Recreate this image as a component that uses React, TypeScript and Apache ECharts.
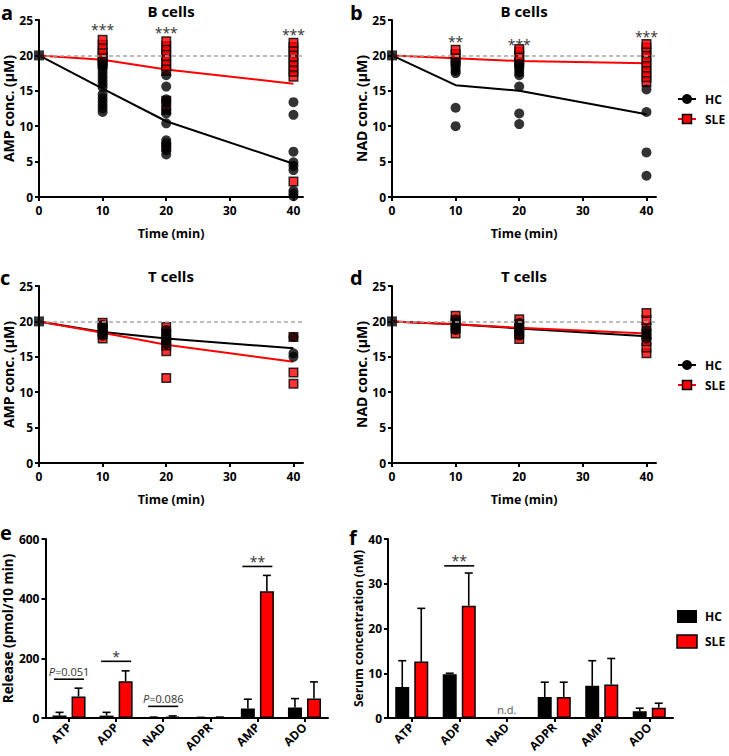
import React, { useEffect, useRef } from 'react';
import * as echarts from 'echarts';

const FONT = "'Open Sans', 'DejaVu Sans', sans-serif";
const RED = '#ff0000';

// ---- time-course panels (a-d) ----
const times = [0, 10, 20, 40];
const sampleTimes = [10, 20, 40];
const timeTicks = [0, 10, 20, 30, 40];
const startConc = 20;

// a: B cells, AMP
const aHCMean = [20, 15.3, 10.7, 4.7];
const aSLEMean = [20, 19.4, 18.0, 16.0];
const aHC10 = [19.0, 18.5, 18.0, 17.5, 17.0, 16.5, 16.0, 15.5, 14.5, 14.0, 13.5, 13.0, 12.5, 12.0];
const aHC20 = [17.2, 15.6, 13.8, 13.4, 12.4, 11.8, 10.4, 8.0, 7.6, 7.2, 6.6, 6.0];
const aHC40 = [13.4, 11.6, 6.4, 4.9, 4.4, 3.8, 0.9, 0.5, 0.1];
const aSLE10 = [18.8, 19.3, 19.8, 20.3, 20.8, 21.5, 22.2];
const aSLE20 = [7.1, 12.3, 13.6, 17.8, 18.5, 19.2, 19.9, 20.6, 21.3, 22.0];
const aSLE40 = [2.2, 17.0, 17.7, 18.4, 19.1, 19.8, 20.5, 21.2, 21.8];
const aStars = ['***', '***', '***'];
const aStarY = [23.9, 23.5, 23.2];

// b: B cells, NAD
const bHCMean = [20, 15.8, 15.0, 11.7];
const bSLEMean = [20, 19.6, 19.2, 18.9];
const bHC10 = [19.0, 18.6, 18.2, 17.8, 17.5, 12.6, 10.0];
const bHC20 = [18.8, 18.4, 18.0, 17.6, 17.2, 15.6, 11.8, 10.3];
const bHC40 = [15.2, 12.0, 6.3, 3.0];
const bSLE10 = [19.1, 19.6, 20.2, 20.8];
const bSLE20 = [18.9, 19.4, 19.9, 20.5, 20.9];
const bSLE40 = [16.2, 16.9, 17.6, 18.3, 19.0, 19.7, 20.4, 21.1, 21.6];
const bStars = ['**', '***', '***'];
const bStarY = [22.2, 21.8, 23.0];

// c: T cells, AMP
const cHCMean = [20, 18.5, 17.6, 16.2];
const cSLEMean = [20, 18.4, 16.7, 14.3];
const cHC10 = [18.0, 18.4, 18.8, 19.2, 19.5];
const cHC20 = [16.8, 17.3, 17.8, 18.3, 18.8];
const cHC40 = [17.8, 15.5, 15.0];
const cSLE10 = [17.6, 18.2, 18.8, 19.4, 19.8];
const cSLE20 = [12.0, 15.8, 16.6, 17.4, 18.2, 19.2];
const cSLE40 = [11.2, 12.8, 17.8];

// d: T cells, NAD
const dHCMean = [20, 19.6, 19.0, 17.9];
const dSLEMean = [20, 19.6, 19.1, 18.3];
const dHC10 = [18.8, 19.3, 19.8, 20.3];
const dHC20 = [18.0, 18.6, 19.2, 19.8];
const dHC40 = [17.6, 18.2, 18.8];
const dSLE10 = [18.3, 19.0, 19.6, 20.2, 20.8];
const dSLE20 = [17.5, 18.2, 18.9, 19.6, 20.3];
const dSLE40 = [15.5, 16.3, 17.2, 18.2, 19.2, 20.2, 21.2];

// ---- bar panels (e-f) ----
const metabolites = ['ATP', 'ADP', 'NAD', 'ADPR', 'AMP', 'ADO'];
const eHC = [8, 8, 2, 1, 32, 35];
const eHCsd = [11, 11, 1, 1, 31, 30];
const eSLE = [72, 123, 5, 2, 425, 65];
const eSLEsd = [28, 35, 2, 1, 53, 56];
const eSigCats = ['ATP', 'ADP', 'NAD', 'AMP'];
const eSigY = [130, 190, 39, 508];
const eSigText = ['{i|P}=0.051', '*', '{i|P}=0.086', '**'];

const fHC = [6.9, 9.8, null, 4.7, 7.2, 1.5];
const fHCsd = [5.9, 0.2, null, 3.3, 5.6, 0.7];
const fSLE = [12.6, 25.1, null, 4.7, 7.5, 2.3];
const fSLEsd = [11.9, 7.3, null, 3.3, 5.8, 1.0];
const fSigCats = ['ADP'];
const fSigY = [34];
const fSigText = ['**'];
const fNotDetected = ['NAD'];

// ---- style constants ----
const BAR_W = 14;
const BAR_OFFSET = 9.5;
const STAR_SHIFT = 2;
const STAR_FONT = `14px ${FONT}`;
const LEGEND_FONT = `bold 12px ${FONT}`;

const grids = [
  { left: 39, top: 20, width: 264, height: 177 },
  { left: 392, top: 20, width: 264, height: 177 },
  { left: 39, top: 286, width: 264, height: 177 },
  { left: 392, top: 286, width: 264, height: 177 },
  { left: 44, top: 539, width: 284, height: 179 },
  { left: 388, top: 539, width: 285, height: 179 },
];

const axisLine = { show: true, onZero: false, lineStyle: { color: '#000', width: 2 } };
const axisTick = { show: true, length: 4, lineStyle: { color: '#000', width: 2 } };
const labelStyle = { color: '#000', fontWeight: 'bold' as const, fontSize: 12, fontFamily: FONT };

function timeAxis(gi: number) {
  return {
    type: 'value', gridIndex: gi, min: 0, max: 41.5, interval: 10,
    axisLine, axisTick: { ...axisTick, customValues: timeTicks },
    axisLabel: { ...labelStyle, margin: 7, customValues: timeTicks, formatter: (v: number) => (v % 10 === 0 ? String(v) : '') },
    splitLine: { show: false },
    name: 'Time (min)', nameLocation: 'middle', nameGap: 30,
    nameTextStyle: { ...labelStyle, fontSize: 12.5 },
  };
}
function concAxis(gi: number, name: string) {
  return {
    type: 'value', gridIndex: gi, min: 0, max: 25, interval: 5,
    axisLine, axisTick, axisLabel: { ...labelStyle, margin: 6 },
    splitLine: { show: false },
    name, nameLocation: 'middle', nameGap: 24,
    nameTextStyle: { ...labelStyle, fontSize: 14 },
  };
}
function catAxis(gi: number) {
  return {
    type: 'category', gridIndex: gi, data: metabolites,
    axisLine, axisTick: { ...axisTick, alignWithLabel: true },
    axisLabel: { ...labelStyle, rotate: 45, margin: 7, interval: 0 },
  };
}
function barValueAxis(gi: number, max: number, interval: number, name: string, gap: number, size: number) {
  return {
    type: 'value', gridIndex: gi, min: 0, max, interval,
    axisLine, axisTick, axisLabel: { ...labelStyle, margin: 6 },
    splitLine: { show: false },
    name, nameLocation: 'middle', nameGap: gap,
    nameTextStyle: { ...labelStyle, fontSize: size },
  };
}

function timePanel(gi: number, hcMean: number[], sleMean: number[], hc: number[][], sle: number[][], stars?: string[], starY?: number[]) {
  const pts = (sets: number[][]) => sets.flatMap((arr, k) => arr.map((v) => [sampleTimes[k], v]));
  const s: any[] = [
    {
      type: 'line', xAxisIndex: gi, yAxisIndex: gi, data: times.map((t, i) => [t, hcMean[i]]),
      symbol: 'none', lineStyle: { color: '#000', width: 2 }, itemStyle: { color: '#000' }, z: 2,
      markLine: {
        silent: true, symbol: 'none', label: { show: false },
        lineStyle: { type: [4, 3], color: '#a6a6a6', width: 1.5 },
        data: [{ yAxis: startConc }],
      },
    },
    {
      type: 'line', xAxisIndex: gi, yAxisIndex: gi, data: times.map((t, i) => [t, sleMean[i]]),
      symbol: 'none', lineStyle: { color: RED, width: 2 }, itemStyle: { color: RED }, z: 2,
    },
    {
      type: 'scatter', xAxisIndex: gi, yAxisIndex: gi, data: pts(sle), symbol: 'rect', symbolSize: 8.5,
      itemStyle: { color: RED, borderColor: '#000', borderWidth: 1.5 }, z: 3,
    },
    {
      type: 'scatter', xAxisIndex: gi, yAxisIndex: gi, data: pts(hc), symbol: 'circle', symbolSize: 10,
      itemStyle: { color: '#000' }, z: 4,
    },
    {
      type: 'scatter', xAxisIndex: gi, yAxisIndex: gi, data: [[0, startConc]], symbol: 'rect', symbolSize: 10,
      itemStyle: { color: '#000' }, z: 5,
    },
  ];
  if (stars && starY) {
    s.push({
      type: 'custom', xAxisIndex: gi, yAxisIndex: gi, silent: true, z: 6,
      data: sampleTimes.map((t, i) => [t, starY[i]]),
      renderItem: (p: any, api: any) => {
        const c = api.coord([api.value(0), api.value(1)]);
        return {
          type: 'text', x: c[0], y: c[1] + STAR_SHIFT,
          style: { text: stars[p.dataIndex], font: STAR_FONT, fill: '#333', align: 'center', verticalAlign: 'middle' },
        };
      },
    });
  }
  return s;
}

function errorSeries(gi: number, means: (number | null)[], sds: (number | null)[], offset: number) {
  const data = means
    .map((m, i) => (m == null || sds[i] == null ? null : [i, m, m + (sds[i] as number)]))
    .filter((d) => d !== null);
  return {
    type: 'custom', xAxisIndex: gi, yAxisIndex: gi, silent: true, z: 4, data,
    renderItem: (_p: any, api: any) => {
      const base = api.coord([api.value(0), api.value(1)]);
      const top = api.coord([api.value(0), api.value(2)]);
      const x = base[0] + offset;
      const st = { stroke: '#000', lineWidth: 1.6 };
      return {
        type: 'group',
        children: [
          { type: 'line', shape: { x1: x, y1: base[1], x2: x, y2: top[1] }, style: st },
          { type: 'line', shape: { x1: x - 4, y1: top[1], x2: x + 4, y2: top[1] }, style: st },
        ],
      };
    },
  };
}

function sigSeries(gi: number, cats: string[], ys: number[], texts: string[]) {
  return {
    type: 'custom', xAxisIndex: gi, yAxisIndex: gi, silent: true, z: 6,
    data: cats.map((c, i) => [metabolites.indexOf(c), ys[i]]),
    renderItem: (p: any, api: any) => {
      const c = api.coord([api.value(0), api.value(1)]);
      const t = texts[p.dataIndex];
      const isP = t.indexOf('P') >= 0;
      return {
        type: 'group',
        children: [
          { type: 'line', shape: { x1: c[0] - 15, y1: c[1], x2: c[0] + 15, y2: c[1] }, style: { stroke: '#000', lineWidth: 1.6 } },
          {
            type: 'text', x: c[0], y: c[1] - (isP ? 8 : 5),
            style: {
              text: t, font: isP ? `11px ${FONT}` : STAR_FONT, fill: '#333', align: 'center', verticalAlign: 'middle',
              rich: { i: { font: `italic 11px ${FONT}`, fill: '#333' } },
            },
          },
        ],
      };
    },
  };
}

function barPanel(gi: number, hc: (number | null)[], hcSd: (number | null)[], sle: (number | null)[], sleSd: (number | null)[], cats: string[], ys: number[], texts: string[]) {
  return [
    {
      type: 'bar', xAxisIndex: gi, yAxisIndex: gi, data: hc, barWidth: BAR_W, barGap: '36%',
      itemStyle: { color: '#000', borderColor: '#000', borderWidth: 1.5 }, z: 2,
    },
    {
      type: 'bar', xAxisIndex: gi, yAxisIndex: gi, data: sle, barWidth: BAR_W, barGap: '36%',
      itemStyle: { color: RED, borderColor: '#000', borderWidth: 1.5 }, z: 2,
    },
    errorSeries(gi, hc, hcSd, -BAR_OFFSET),
    errorSeries(gi, sle, sleSd, BAR_OFFSET),
    sigSeries(gi, cats, ys, texts),
  ];
}

function txt(x: number, y: number, text: string, font: string, align = 'center', vAlign = 'middle', fill = '#000') {
  return { type: 'text', x, y, silent: true, style: { text, font, fill, align, verticalAlign: vAlign } };
}

function lineLegend(x: number, y: number) {
  return [
    { type: 'line', shape: { x1: x - 9, y1: y, x2: x + 9, y2: y }, style: { stroke: '#000', lineWidth: 2 } },
    { type: 'circle', shape: { cx: x, cy: y, r: 5 }, style: { fill: '#000' } },
    txt(x + 18, y, 'HC', LEGEND_FONT, 'left'),
    { type: 'line', shape: { x1: x - 9, y1: y + 20, x2: x + 9, y2: y + 20 }, style: { stroke: RED, lineWidth: 2 } },
    { type: 'rect', shape: { x: x - 4.5, y: y + 15.5, width: 9, height: 9 }, style: { fill: RED, stroke: '#000', lineWidth: 1.5 } },
    txt(x + 18, y + 20, 'SLE', LEGEND_FONT, 'left'),
  ];
}

function barLegend(x: number, y: number) {
  return [
    { type: 'rect', shape: { x, y, width: 20, height: 13 }, style: { fill: '#000' } },
    txt(x + 28, y + 6.5, 'HC', LEGEND_FONT, 'left'),
    { type: 'rect', shape: { x, y: y + 25, width: 20, height: 13 }, style: { fill: RED, stroke: '#000', lineWidth: 1.5 } },
    txt(x + 28, y + 31.5, 'SLE', LEGEND_FONT, 'left'),
  ];
}

function buildOption() {
  const letterFont = `bold 20px ${FONT}`;
  const titleFont = `bold 15px ${FONT}`;
  const ndSeries = {
    type: 'custom', xAxisIndex: 5, yAxisIndex: 5, silent: true, z: 6,
    data: fNotDetected.map((c) => [metabolites.indexOf(c), 0]),
    renderItem: (p: any, api: any) => {
      const c = api.coord([api.value(0), api.value(1)]);
      return { type: 'text', x: c[0], y: c[1] - 9, style: { text: 'n.d.', font: `11px ${FONT}`, fill: '#555', align: 'center', verticalAlign: 'middle' } };
    },
  };
  return {
    animation: false,
    backgroundColor: '#fff',
    grid: grids,
    xAxis: [timeAxis(0), timeAxis(1), timeAxis(2), timeAxis(3), catAxis(4), catAxis(5)],
    yAxis: [
      concAxis(0, 'AMP conc. (μM)'),
      concAxis(1, 'NAD conc. (μM)'),
      concAxis(2, 'AMP conc. (μM)'),
      concAxis(3, 'NAD conc. (μM)'),
      barValueAxis(4, 600, 200, 'Release (pmol/10 min)', 27, 13.5),
      barValueAxis(5, 40, 10, 'Serum concentration (nM)', 20, 12),
    ],
    series: [
      ...timePanel(0, aHCMean, aSLEMean, [aHC10, aHC20, aHC40], [aSLE10, aSLE20, aSLE40], aStars, aStarY),
      ...timePanel(1, bHCMean, bSLEMean, [bHC10, bHC20, bHC40], [bSLE10, bSLE20, bSLE40], bStars, bStarY),
      ...timePanel(2, cHCMean, cSLEMean, [cHC10, cHC20, cHC40], [cSLE10, cSLE20, cSLE40]),
      ...timePanel(3, dHCMean, dSLEMean, [dHC10, dHC20, dHC40], [dSLE10, dSLE20, dSLE40]),
      ...barPanel(4, eHC, eHCsd, eSLE, eSLEsd, eSigCats, eSigY, eSigText),
      ...barPanel(5, fHC, fHCsd, fSLE, fSLEsd, fSigCats, fSigY, fSigText),
      ndSeries,
    ],
    graphic: [
      txt(171, 11, 'B cells', titleFont),
      txt(524, 11, 'B cells', titleFont),
      txt(171, 276, 'T cells', titleFont),
      txt(524, 276, 'T cells', titleFont),
      txt(1, 22, 'a', letterFont, 'left', 'bottom'),
      txt(350, 22, 'b', letterFont, 'left', 'bottom'),
      txt(0, 287, 'c', letterFont, 'left', 'bottom'),
      txt(350, 287, 'd', letterFont, 'left', 'bottom'),
      txt(0, 542, 'e', letterFont, 'left', 'bottom'),
      txt(349, 547, 'f', letterFont, 'left', 'bottom'),
      ...lineLegend(687, 99),
      ...lineLegend(687, 365),
      ...barLegend(677, 610),
    ],
  };
}

export default function App() {
  const ref = useRef<HTMLDivElement>(null);
  useEffect(() => {
    if (!ref.current) return;
    const chart = echarts.init(ref.current, null, { renderer: 'svg' });
    chart.setOption(buildOption() as any);
    return () => chart.dispose();
  }, []);
  return (
    <div
      ref={ref}
      style={{ position: 'fixed', left: 0, top: 0, width: 729, height: 756, background: '#fff' }}
    />
  );
}
